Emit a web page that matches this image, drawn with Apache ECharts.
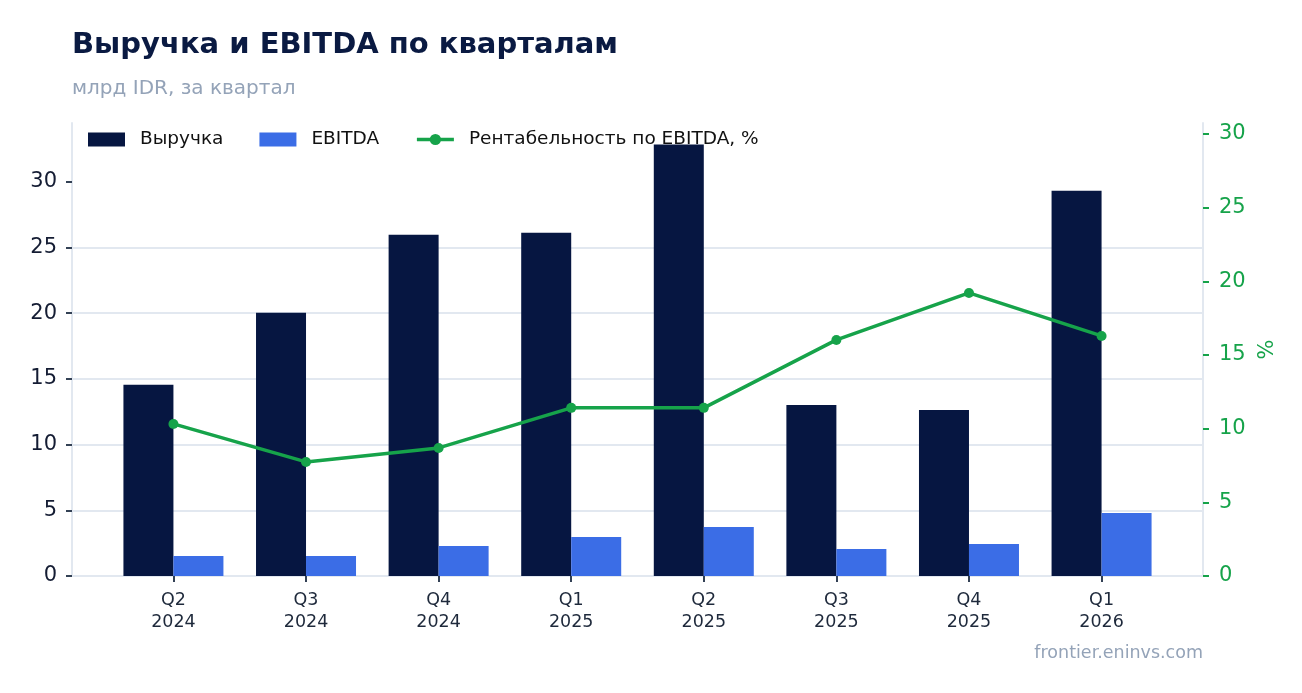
<!DOCTYPE html>
<html lang="ru">

<head>
    <meta charset="UTF-8">
    <title>Выручка и EBITDA по кварталам</title>
    <script type="text/javascript" src="https://cdn.jsdelivr.net/npm/echarts@6/dist/echarts.min.js"></script>
    <style>
        html, body {
            margin: 0;
            padding: 0;
            background-color: #ffffff;
            overflow: hidden;
        }
    </style>
</head>

<body>
    <div style="width: 1302px; height: 693px" id="container"></div>
</body>
<script>
    // данные
    const quarters = ['Q2', 'Q3', 'Q4', 'Q1', 'Q2', 'Q3', 'Q4', 'Q1'];
    const years = ['2024', '2024', '2024', '2025', '2025', '2025', '2025', '2026'];
    const revenue = [14.55, 20.03, 25.97, 26.12, 32.83, 13.02, 12.64, 29.32];
    const ebitda = [1.52, 1.52, 2.28, 2.97, 3.73, 2.06, 2.44, 4.80];
    const margin = [10.32, 7.74, 8.69, 11.41, 11.41, 16.02, 19.21, 16.29];
    const leftTicks = [0, 5, 10, 15, 20, 25, 30];
    const rightTicks = [0, 5, 10, 15, 20, 25, 30];

    const idx = quarters.map((q, i) => i);
    const pairs = arr => arr.map((v, i) => [i, v]);

    const font = 'DejaVu Sans';
    const navy = '#061641';
    const blue = '#3b6de6';
    const green = '#16a34a';
    const gridColor = '#e2e8f0';
    const textDark = '#1e293b';

    var dom = document.getElementById('container');
    var myChart = echarts.init(dom);

    var option = {
        backgroundColor: '#ffffff',
        animation: false,
        textStyle: { fontFamily: font },
        title: [{
            text: 'Выручка и EBITDA по кварталам',
            left: 67,
            top: 26,
            textStyle: { fontFamily: font, fontSize: 29, fontWeight: 'bold', color: '#0a1a42' }
        }, {
            text: 'млрд IDR, за квартал',
            left: 67,
            top: 74,
            textStyle: { fontFamily: font, fontSize: 20, fontWeight: 'normal', color: '#94a3b8' }
        }, {
            text: 'frontier.eninvs.com',
            right: 94,
            top: 639,
            textStyle: { fontFamily: font, fontSize: 17.5, fontWeight: 'normal', color: '#94a3b8' }
        }],
        legend: {
            left: 88,
            top: 130,
            padding: 0,
            itemWidth: 37,
            itemHeight: 14,
            itemGap: 36,
            textStyle: { fontFamily: font, fontSize: 18.5, color: '#111111', padding: [0, 0, 0, 10] },
            data: [
                { name: 'Выручка', icon: 'rect' },
                { name: 'EBITDA', icon: 'rect' },
                { name: 'Рентабельность по EBITDA, %', lineStyle: { width: 3.5 } }
            ]
        },
        grid: {
            left: 72,
            right: 99,
            top: 123,
            bottom: 117,
            containLabel: false
        },
        xAxis: {
            type: 'value',
            min: -0.765,
            max: 7.765,
            axisLine: { show: true, onZero: false, lineStyle: { color: gridColor, width: 2 } },
            axisTick: {
                show: true,
                customValues: idx,
                length: 6,
                lineStyle: { color: '#334155', width: 2 }
            },
            axisLabel: {
                customValues: idx,
                margin: 13,
                fontSize: 17.5,
                lineHeight: 22,
                color: textDark,
                formatter: v => quarters[v] + '\n' + years[v]
            },
            splitLine: { show: false }
        },
        yAxis: [{
            type: 'value',
            min: 0,
            max: 34.47,
            axisLine: { show: true, onZero: false, lineStyle: { color: gridColor, width: 2 } },
            axisTick: {
                show: true,
                customValues: leftTicks,
                length: 6,
                lineStyle: { color: '#334155', width: 2 }
            },
            axisLabel: {
                customValues: leftTicks,
                margin: 15,
                fontSize: 21,
                padding: [5, 0, 0, 0],
                color: '#141c33'
            },
            splitLine: {
                show: true,
                showMinLine: false,
                showMaxLine: false,
                lineStyle: { color: gridColor, width: 2 }
            }
        }, {
            type: 'value',
            position: 'right',
            min: 0,
            max: 30.74,
            name: '%',
            nameLocation: 'middle',
            nameRotate: 90,
            nameGap: 49,
            nameTextStyle: { fontFamily: font, fontSize: 21, color: green },
            axisLine: { show: true, onZero: false, lineStyle: { color: gridColor, width: 2 } },
            axisTick: {
                show: true,
                customValues: rightTicks,
                length: 6,
                lineStyle: { color: green, width: 2 }
            },
            axisLabel: {
                customValues: rightTicks,
                margin: 16,
                fontSize: 21,
                padding: [4, 0, 0, 0],
                color: green
            },
            splitLine: { show: false }
        }],
        series: [{
            name: 'Выручка',
            type: 'bar',
            data: pairs(revenue),
            barWidth: 50,
            barGap: '0%',
            itemStyle: { color: navy },
            z: 2
        }, {
            name: 'EBITDA',
            type: 'bar',
            data: pairs(ebitda),
            barWidth: 50,
            barGap: '0%',
            itemStyle: { color: blue },
            z: 2
        }, {
            name: 'Рентабельность по EBITDA, %',
            type: 'line',
            yAxisIndex: 1,
            data: pairs(margin),
            symbol: 'circle',
            symbolSize: 10,
            lineStyle: { color: green, width: 3.5 },
            itemStyle: { color: green },
            z: 5
        }]
    };
    if (option && typeof option === 'object') {
        myChart.setOption(option);
    }
</script>

</html>
